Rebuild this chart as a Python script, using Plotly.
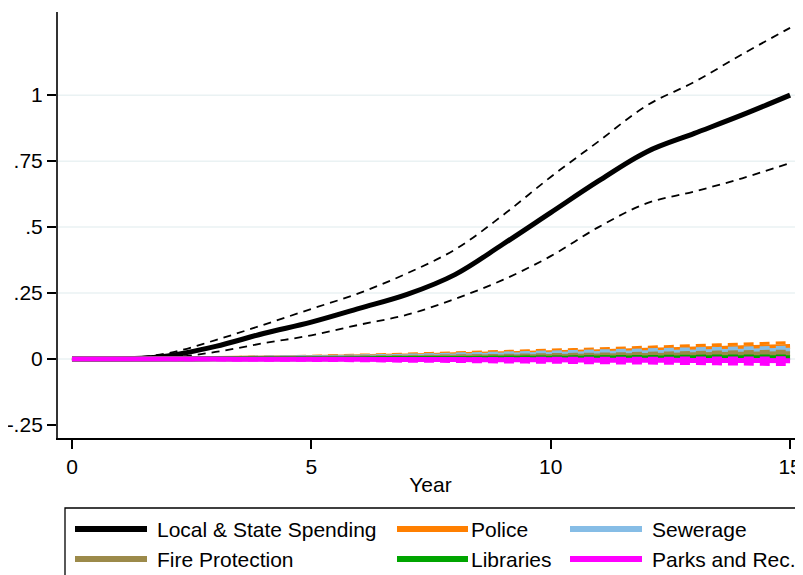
import plotly.graph_objects as go

# ---------------- data ----------------
years = list(range(16))

local_state = [0, 0, 0.012, 0.048, 0.097, 0.14, 0.192, 0.245, 0.32, 0.435, 0.555, 0.675, 0.785, 0.855, 0.925, 1.0]
local_state_hi = [0, 0.002, 0.022, 0.072, 0.13, 0.19, 0.25, 0.325, 0.415, 0.545, 0.69, 0.825, 0.96, 1.05, 1.155, 1.255]
local_state_lo = [0, -0.002, 0.004, 0.027, 0.06, 0.09, 0.13, 0.168, 0.228, 0.3, 0.39, 0.5, 0.59, 0.635, 0.685, 0.743]

police = [0, 0, 0.001, 0.002, 0.004, 0.006, 0.009, 0.012, 0.016, 0.02, 0.024, 0.028, 0.033, 0.038, 0.043, 0.048]
police_hi = [0, 0.001, 0.003, 0.005, 0.008, 0.011, 0.015, 0.019, 0.024, 0.029, 0.034, 0.039, 0.045, 0.051, 0.057, 0.062]
police_lo = [0, -0.001, -0.001, -0.001, 0.0, 0.001, 0.003, 0.005, 0.008, 0.011, 0.014, 0.017, 0.021, 0.025, 0.03, 0.035]

sewerage = [0, 0, 0.001, 0.002, 0.003, 0.005, 0.007, 0.009, 0.012, 0.015, 0.018, 0.021, 0.024, 0.027, 0.03, 0.033]
sewerage_hi = [0, 0.001, 0.003, 0.005, 0.007, 0.009, 0.012, 0.015, 0.019, 0.023, 0.027, 0.031, 0.035, 0.039, 0.042, 0.045]
sewerage_lo = [0, -0.001, -0.001, -0.001, 0.0, 0.001, 0.002, 0.003, 0.005, 0.007, 0.009, 0.011, 0.013, 0.015, 0.018, 0.02]

fire = [0, 0, 0.001, 0.001, 0.002, 0.003, 0.004, 0.005, 0.007, 0.008, 0.01, 0.012, 0.014, 0.016, 0.018, 0.02]
fire_hi = [0, 0.001, 0.002, 0.003, 0.005, 0.006, 0.008, 0.01, 0.012, 0.014, 0.017, 0.019, 0.022, 0.025, 0.028, 0.03]
fire_lo = [0, -0.001, 0.0, -0.001, -0.001, 0.0, 0.0, 0.0, 0.002, 0.002, 0.003, 0.005, 0.006, 0.007, 0.008, 0.01]

libraries = [0, 0, 0, 0.001, 0.001, 0.001, 0.002, 0.002, 0.002, 0.003, 0.003, 0.004, 0.004, 0.005, 0.005, 0.005]
libraries_hi = [0, 0.001, 0.001, 0.002, 0.003, 0.004, 0.005, 0.006, 0.006, 0.007, 0.008, 0.009, 0.01, 0.011, 0.012, 0.012]
libraries_lo = [0, -0.001, -0.001, 0.0, -0.001, -0.002, -0.001, -0.002, -0.002, -0.001, -0.002, -0.001, -0.002, -0.001, -0.002, -0.002]

parks = [0, 0, 0, 0, -0.001, -0.001, -0.001, -0.002, -0.002, -0.003, -0.003, -0.004, -0.004, -0.005, -0.005, -0.006]
parks_hi = [0, 0.001, 0.001, 0.001, 0.001, 0.001, 0.002, 0.002, 0.002, 0.002, 0.003, 0.003, 0.003, 0.004, 0.004, 0.005]
parks_lo = [0, -0.001, -0.002, -0.003, -0.004, -0.005, -0.006, -0.008, -0.009, -0.011, -0.012, -0.014, -0.015, -0.017, -0.019, -0.021]

series_names = ["Local & State Spending", "Police", "Sewerage", "Fire Protection", "Libraries", "Parks and Rec."]
series_colors = ["#000000", "#ff7f00", "#86bde6", "#9c8a4a", "#00a500", "#ff00ff"]

x_ticks = [0, 5, 10, 15]
y_ticks = [-0.25, 0, 0.25, 0.5, 0.75, 1]
y_ticktext = ["-.25", "0", ".25", ".5", ".75", "1"]
grid_vals = [0, 0.25, 0.5, 0.75, 1]

# ---------------- figure ----------------
FONT = "Liberation Sans, Arial, sans-serif"
FS = 21
fig = go.Figure()

all_series = [
    (local_state, local_state_hi, local_state_lo),
    (police, police_hi, police_lo),
    (sewerage, sewerage_hi, sewerage_lo),
    (fire, fire_hi, fire_lo),
    (libraries, libraries_hi, libraries_lo),
    (parks, parks_hi, parks_lo),
]

for i, ((mid, hi, lo), name, col) in enumerate(zip(all_series, series_names, series_colors)):
    if i == 0:
        dash_w, dash_pat = 1.8, "8px,6px"
    else:
        dash_w, dash_pat = 3, "10px,6px"
    for band in (hi, lo):
        fig.add_trace(go.Scatter(x=years, y=band, mode="lines", showlegend=False,
                                 line=dict(color=col, width=dash_w, dash=dash_pat, shape="spline", smoothing=1.0),
                                 hoverinfo="skip"))
    fig.add_trace(go.Scatter(x=years, y=mid, mode="lines", name=name, showlegend=False,
                             line=dict(color=col, width=5, shape="spline", smoothing=1.0)))

# The page body has an 8px default margin, so the figure sits 8px right/down.
OFF = 8
W, H = 803 - OFF, 575 - OFF
# target plot area in screen pixels
SX0, SX1, SY0, SY1 = 58, 803, 12, 438
L = SX0 - OFF
T = SY0 - OFF
R = W - (SX1 - OFF)
B = H - (SY1 - OFF)
pw, ph = W - L - R, H - T - B


def px(xs):
    return (xs - OFF - L) / pw


def py(ys):
    return (H - B - (ys - OFF)) / ph


shapes = []
for g in grid_vals:
    shapes.append(dict(type="line", xref="paper", yref="y", x0=0, x1=1, y0=g, y1=g,
                       line=dict(color="#eaf2f3", width=1.5), layer="below"))

# legend box (manual, to mimic the long line samples)
shapes.append(dict(type="rect", xref="paper", yref="paper", x0=px(65), x1=px(797), y0=py(508), y1=py(600),
                   line=dict(color="#000000", width=1.3), fillcolor="rgba(0,0,0,0)"))

annotations = []
col_lines = [(75, 147, 157), (397, 468, 471), (570, 642, 652)]
row_y = [529, 559]
for k, (name, col) in enumerate(zip(series_names, series_colors)):
    r, c = divmod(k, 3)
    x0, x1, xt = col_lines[c]
    yy = row_y[r]
    shapes.append(dict(type="line", xref="paper", yref="paper", x0=px(x0), x1=px(x1), y0=py(yy), y1=py(yy),
                       line=dict(color=col, width=6)))
    annotations.append(dict(xref="paper", yref="paper", x=px(xt), y=py(yy), text=name, showarrow=False,
                            xanchor="left", yanchor="middle", xshift=-2,
                            font=dict(size=FS, color="#000000", family=FONT)))

fig.update_layout(
    width=W, height=H,
    margin=dict(l=L, r=R, t=T, b=B, autoexpand=False),
    paper_bgcolor="white", plot_bgcolor="white",
    font=dict(family=FONT, size=FS, color="#000000"),
    shapes=shapes, annotations=annotations,
    showlegend=False,
)
fig.update_xaxes(range=[-0.292, 15.27], tickvals=x_ticks, ticks="outside", ticklen=9, tickwidth=1.5,
                 tickcolor="#000000", showline=True, linecolor="#000000", linewidth=1.5,
                 showgrid=False, zeroline=False, tickfont=dict(size=FS), automargin=False,
                 title=dict(text="Year", font=dict(size=FS), standoff=0))
fig.update_yaxes(range=[-0.299, 1.315], tickvals=y_ticks, ticktext=y_ticktext, ticks="outside", ticklen=9,
                 tickwidth=1.5, tickcolor="#000000", showline=True, linecolor="#333333", linewidth=2,
                 showgrid=False, zeroline=False, tickfont=dict(size=FS), automargin=False)

fig.write_html("out.html")
